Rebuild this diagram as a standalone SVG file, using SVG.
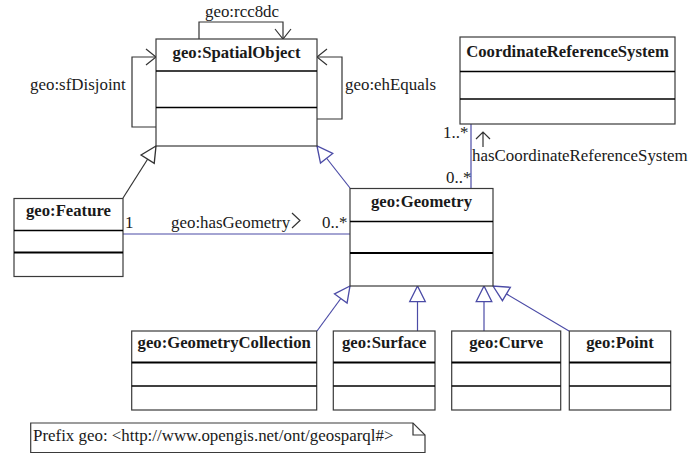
<svg xmlns="http://www.w3.org/2000/svg" width="689" height="455" viewBox="0 0 689 455">
<style>
text{font-family:"Liberation Serif","Times New Roman",serif;fill:#1a1a1a;font-size:16.9px}
.cls{font-weight:bold;text-anchor:middle;font-size:16.7px}
.box{fill:#fff;stroke:#3a3a3a;stroke-width:1.2}
.div1{stroke:#000;stroke-width:1.6}
.div2{stroke:#000;stroke-width:2.2}
.blk{fill:none;stroke:#333;stroke-width:1.2}
.blu{fill:none;stroke:#4b4ba6;stroke-width:1.2}
</style>
<defs>
<marker id="genK" markerUnits="userSpaceOnUse" markerWidth="20" markerHeight="20" viewBox="-16 -9 18 18" refX="0" refY="0" orient="auto">
<path d="M0,0 L-14,-7 L-14,7 Z" fill="#fff" stroke="#333" stroke-width="1.2"/>
</marker>
<marker id="genB" markerUnits="userSpaceOnUse" markerWidth="20" markerHeight="20" viewBox="-16 -9 18 18" refX="0" refY="0" orient="auto">
<path d="M0,0 L-14,-7 L-14,7 Z" fill="#fff" stroke="#4b4ba6" stroke-width="1.2"/>
</marker>
<marker id="open" markerUnits="userSpaceOnUse" markerWidth="20" markerHeight="20" viewBox="-12 -10 14 20" refX="0" refY="0" orient="auto">
<path d="M-10,-8 L0,0 L-10,8" fill="none" stroke="#333" stroke-width="1.2"/>
</marker>
</defs>

<g id="connectors">
<path class="blk" d="M199,39 V22 H283 V39" marker-end="url(#open)"/>
<path class="blk" d="M156,127 H132 V57 H156" marker-end="url(#open)"/>
<path class="blk" d="M317,119 H342 V57 H317" marker-end="url(#open)"/>
<text x="242" y="17" text-anchor="middle">geo:rcc8dc</text>
<text x="30" y="90">geo:sfDisjoint</text>
<text x="345" y="90">geo:ehEquals</text>
<line class="blk" x1="123" y1="198" x2="156" y2="146" marker-end="url(#genK)"/>
<line class="blu" x1="350" y1="188" x2="317" y2="146" marker-end="url(#genB)"/>
<line class="blu" x1="123" y1="234" x2="350" y2="234"/>
<text x="125" y="228">1</text>
<text x="171" y="228">geo:hasGeometry</text>
<path class="blk" d="M292,213 L300,220.5 L292,228"/>
<text x="322" y="228">0..*</text>
<line class="blu" x1="471" y1="124" x2="471" y2="188"/>
<path class="blk" d="M476,139 L483,132 L490,139 M483,132 V147"/>
<text x="443" y="138">1..*</text>
<text x="472" y="161">hasCoordinateReferenceSystem</text>
<text x="446" y="183">0..*</text>
<line class="blu" x1="317" y1="331" x2="350" y2="286" marker-end="url(#genB)"/>
<line class="blu" x1="417.5" y1="331" x2="417.5" y2="286" marker-end="url(#genB)"/>
<line class="blu" x1="484" y1="331" x2="484" y2="286" marker-end="url(#genB)"/>
<line class="blu" x1="569" y1="331" x2="493" y2="286" marker-end="url(#genB)"/>
</g>

<g id="SpatialObject">
<rect class="box" x="156" y="39" width="161" height="107"/>
<line class="div1" x1="156" y1="71" x2="317" y2="71"/>
<line class="div1" x1="156" y1="107.5" x2="317" y2="107.5"/>
<text class="cls" x="236.5" y="58">geo:SpatialObject</text>
</g>

<g id="CoordinateReferenceSystem">
<rect class="box" x="460" y="37" width="215" height="87"/>
<line class="div1" x1="460" y1="71.5" x2="675" y2="71.5"/>
<line class="div1" x1="460" y1="99" x2="675" y2="99"/>
<text class="cls" x="567.5" y="57">CoordinateReferenceSystem</text>
</g>

<g id="Feature">
<rect class="box" x="14" y="198.5" width="109" height="78"/>
<line class="div1" x1="14" y1="230.5" x2="123" y2="230.5"/>
<line class="div2" x1="14" y1="252.5" x2="123" y2="252.5"/>
<text class="cls" x="68.5" y="216">geo:Feature</text>
</g>

<g id="Geometry">
<rect class="box" x="350" y="188.5" width="143" height="97.5"/>
<line class="div1" x1="350" y1="221.5" x2="493" y2="221.5"/>
<line class="div2" x1="350" y1="253" x2="493" y2="253"/>
<text class="cls" x="421.5" y="207">geo:Geometry</text>
</g>

<g id="GeometryCollection">
<rect class="box" x="131.7" y="331" width="185" height="79"/>
<line class="div2" x1="131.7" y1="362.5" x2="316.7" y2="362.5"/>
<line class="div1" x1="131.7" y1="386" x2="316.7" y2="386"/>
<text class="cls" x="224.2" y="348">geo:GeometryCollection</text>
</g>

<g id="Surface">
<rect class="box" x="333.3" y="331" width="101.7" height="79"/>
<line class="div2" x1="333.3" y1="362.5" x2="435" y2="362.5"/>
<line class="div1" x1="333.3" y1="386" x2="435" y2="386"/>
<text class="cls" x="384.2" y="348">geo:Surface</text>
</g>

<g id="Curve">
<rect class="box" x="451.7" y="331" width="109" height="79"/>
<line class="div2" x1="451.7" y1="362.5" x2="560.7" y2="362.5"/>
<line class="div1" x1="451.7" y1="386" x2="560.7" y2="386"/>
<text class="cls" x="506.2" y="348">geo:Curve</text>
</g>

<g id="Point">
<rect class="box" x="569.3" y="331" width="101.4" height="79"/>
<line class="div2" x1="569.3" y1="362.5" x2="670.7" y2="362.5"/>
<line class="div1" x1="569.3" y1="386" x2="670.7" y2="386"/>
<text class="cls" x="620" y="348">geo:Point</text>
</g>

<g id="Note">
<path class="box" d="M30.7,423 H413 L425,435 V452.5 H30.7 Z"/>
<path class="blk" d="M413,423 V435 H425"/>
<text x="33" y="441">Prefix geo: &lt;http://www.opengis.net/ont/geosparql#&gt;</text>
</g>
</svg>
